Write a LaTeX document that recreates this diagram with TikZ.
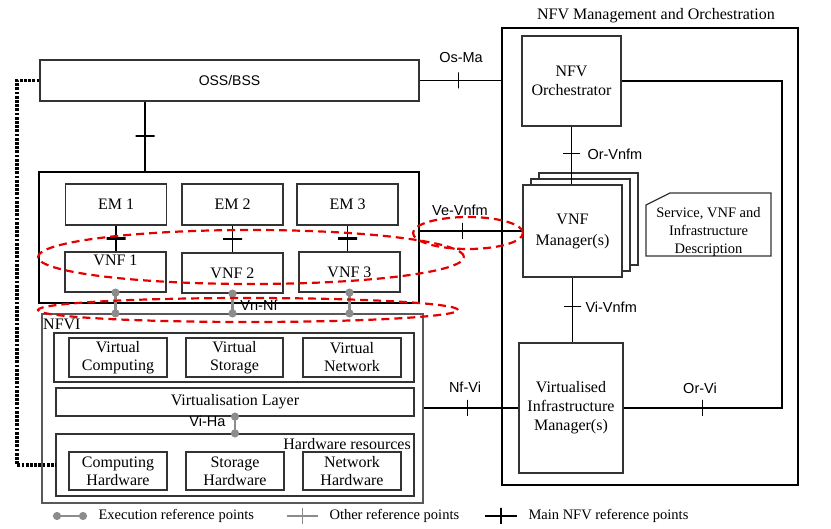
\documentclass[tikz,border=0pt]{standalone}
\usepackage{fontspec}
\setmainfont{Liberation Serif}
\setsansfont{Liberation Sans}
\usepackage{tikz}
\usetikzlibrary{arrows.meta}

\newcommand{\boxtxt}{\fontsize{16}{19}\selectfont}
\newcommand{\desctxt}{\fontsize{14.5}{18}\selectfont}
\newcommand{\reftxt}{\fontsize{14.5}{16}\sffamily}
\newcommand{\legtxt}{\fontsize{14.5}{16}\selectfont}

\begin{document}
\begin{tikzpicture}[x=1pt, y=-1pt,
    box/.style={draw=black!80, line width=1.2pt, fill=white, inner sep=0pt, align=center, font=\boxtxt},
    sbox/.style={box, font=\fontsize{14}{16}\sffamily},
    thickbox/.style={draw=black, line width=2.6pt, inner sep=0pt},
    mainref/.style={draw=black, line width=1.8pt},
    otherref/.style={draw=black!45, line width=2.4pt},
    execref/.style={draw=black!45, line width=2.6pt, arrows={Circle[length=8pt]-Circle[length=8pt]}, shorten <=-4pt, shorten >=-4pt},
    tickv/.style={draw, inner sep=0pt, minimum width=0pt, minimum height=16pt, line width=1.3pt},
    tickh/.style={draw, inner sep=0pt, minimum height=0pt, minimum width=19pt, line width=2.2pt},
    mgmtdot/.style={draw=black, line width=3.2pt, dash pattern=on 2.8pt off 1.4pt},
    redring/.style={draw=red!90!black, line width=2.2pt, dash pattern=on 8pt off 5pt}
]
    \useasboundingbox (0,0) rectangle (831,529);

    % OSS/BSS on top
    \node[sbox, minimum width=379pt, minimum height=41pt] (oss) at (229.5,80.5) {OSS/BSS};

    % NFV Management and Orchestration
    \node[thickbox, minimum width=296pt, minimum height=457pt] (mano) at (650,256.5) {};
    \node[font=\boxtxt] (manotitle) at (656,16) {NFV Management and Orchestration};
    \node[box, minimum width=99pt, minimum height=90pt] (orch) at (571.5,81) {NFV\\Orchestrator};
    \node[box, minimum width=99pt, minimum height=92pt] (vnfmback) at (588.5,219) {};
    \node[box, minimum width=99pt, minimum height=92pt] (vnfmmid) at (580.5,225) {};
    \node[box, minimum width=99pt, minimum height=92pt, font=\fontsize{16}{21}\selectfont] (vnfm) at (572.5,231) {VNF\\Manager(s)};
    \node[box, minimum width=104pt, minimum height=130pt] (vim) at (571,408) {Virtualised\\Infrastructure\\Manager(s)};

    % Description sheet with cut corner
    \draw[draw=black!80, line width=1.2pt] (646,205) -- (670,193) -- (771,193) -- (771,256) -- (646,256) -- cycle;
    \node[align=center, font=\desctxt] (svcdesc) at (708.5,232) {Service, VNF and\\Infrastructure\\Description};

    % VNF block
    \node[thickbox, minimum width=380pt, minimum height=131pt] (vnfblock) at (229,237.5) {};
    \node[box, minimum width=101pt, minimum height=41pt] (em1) at (116,204.5) {EM 1};
    \node[box, minimum width=101pt, minimum height=41pt] (em2) at (232.5,204.5) {EM 2};
    \node[box, minimum width=101pt, minimum height=41pt] (em3) at (347.5,204.5) {EM 3};
    \node[box, minimum width=101pt, minimum height=40pt, text depth=24pt] (vnf1) at (115.5,272) {VNF 1};
    \node[box, minimum width=101pt, minimum height=40pt] (vnf2) at (232.5,273) {VNF 2};
    \node[box, minimum width=101pt, minimum height=40pt] (vnf3) at (349.5,272) {VNF 3};

    % NFVI
    \node[box, draw=black!65, minimum width=381pt, minimum height=189pt] (nfvi) at (232.5,408.5) {};
    \node[anchor=west, inner sep=0pt, font=\boxtxt] (nfvilabel) at (43,324) {NFVI};
    \node[box, minimum width=360pt, minimum height=49pt] (virtres) at (234,357.5) {};
    \node[box, minimum width=98pt, minimum height=39pt, font=\fontsize{16}{18}\selectfont] (vcomp) at (118,357.5) {Virtual\\Computing};
    \node[box, minimum width=97pt, minimum height=39pt, font=\fontsize{16}{18}\selectfont] (vstor) at (234.5,357.5) {Virtual\\Storage};
    \node[box, minimum width=98pt, minimum height=39pt, font=\fontsize{16}{18}\selectfont] (vnet) at (352,357.5) {Virtual\\Network};
    \node[box, minimum width=358pt, minimum height=28pt] (vlayer) at (235,402) {Virtualisation Layer};
    \node[box, minimum width=358pt, minimum height=62pt] (hw) at (235,465) {};
    \node[anchor=east, inner sep=0pt, font=\boxtxt] (hwlabel) at (411,444) {Hardware resources};
    \node[box, minimum width=98pt, minimum height=38pt, font=\fontsize{16}{18}\selectfont] (chw) at (118,471) {Computing\\Hardware};
    \node[box, minimum width=98pt, minimum height=38pt, font=\fontsize{16}{18}\selectfont] (shw) at (235,471) {Storage\\Hardware};
    \node[box, minimum width=98pt, minimum height=38pt, font=\fontsize{16}{18}\selectfont] (nhw) at (352,471) {Network\\Hardware};

    % Main NFV reference points
    \draw[mainref] (oss.east) -- node[tickv, pos=0.48] {} (oss.east -| mano.west);
    \node[font=\reftxt] (osma) at (461,58) {Os-Ma};
    \coordinate (ossx) at (145,0);
    \draw[mainref] (oss.south -| ossx) -- node[tickh] {} (vnfblock.north -| ossx);
    \draw[mainref] (em1.south) -- node[tickh] {} (em1.south |- vnf1.north);
    \draw[mainref] (em2.south) -- node[tickh] {} (em2.south |- vnf2.north);
    \draw[mainref] (em3.south) -- node[tickh] {} (em3.south |- vnf3.north);
    \draw[mainref] (vnfm.west -| vnfblock.east) -- node[tickv, pos=0.41] {} (vnfm.west);
    \node[font=\reftxt] (vevnfm) at (460,210) {Ve-Vnfm};
    \draw[mainref] (nfvi.east |- vim.west) -- node[tickv, pos=0.46] {} (vim.west);
    \node[font=\reftxt] (nfvi-ref) at (465,387) {Nf-Vi};
    \draw[mainref] (orch.south) -- node[tickh, line width=1.3pt, minimum width=17pt, pos=0.47] {} (orch.south |- vnfm.north);
    \node[anchor=west, font=\reftxt] (orvnfm) at (584,154) {Or-Vnfm};
    \draw[mainref] (vnfm.south) -- node[tickh, line width=1.3pt, minimum width=17pt, pos=0.45] {} (vnfm.south |- vim.north);
    \node[anchor=west, font=\reftxt] (vivnfm) at (582,307) {Vi-Vnfm};
    \coordinate (mcorner) at (782,408);
    \draw[mainref] (orch.east) -| (mcorner) -- node[tickv] {} (vim.east);
    \node[font=\reftxt] (orvi) at (700,388) {Or-Vi};

    % Execution reference points
    \draw[execref] (vnf1.south) -- (vnf1.south |- nfvi.north);
    \draw[execref] (vnf2.south) -- (vnf2.south |- nfvi.north);
    \draw[execref] (vnf3.south) -- (vnf3.south |- nfvi.north);
    \node[font=\reftxt] (vnnf) at (259,305) {Vn-Nf};
    \draw[execref] (vlayer.south) -- (hw.north);
    \node[anchor=east, font=\reftxt] (viha) at (229,421) {Vi-Ha};

    % OSS/BSS down to hardware
    \coordinate (dotx) at (17,0);
    \draw[mgmtdot] (oss.west) -- (oss.west -| dotx) |- (hw.west);

    % Red rings
    \draw[redring] (251,257) ellipse [x radius=213pt, y radius=27pt];
    \draw[redring] (468,233) ellipse [x radius=55pt, y radius=16pt];
    \draw[redring] (248,310) ellipse [x radius=210pt, y radius=12pt];

    % Legend
    \coordinate (lgexa) at (57,516);
    \coordinate (lgexb) at (83,516);
    \draw[execref] (lgexa) -- (lgexb);
    \node[anchor=west, font=\legtxt] (lgex) at (95,516) {Execution reference points};
    \coordinate (lgota) at (287,516);
    \coordinate (lgotb) at (318,516);
    \draw[otherref] (lgota) -- node[tickv, draw=black!45, line width=1.6pt] {} (lgotb);
    \node[anchor=west, font=\legtxt] (lgot) at (326,516) {Other reference points};
    \coordinate (lgmaa) at (485,516);
    \coordinate (lgmab) at (517,516);
    \draw[mainref] (lgmaa) -- node[tickv] {} (lgmab);
    \node[anchor=west, font=\legtxt] (lgma) at (525,516) {Main NFV reference points};
\end{tikzpicture}
\end{document}
